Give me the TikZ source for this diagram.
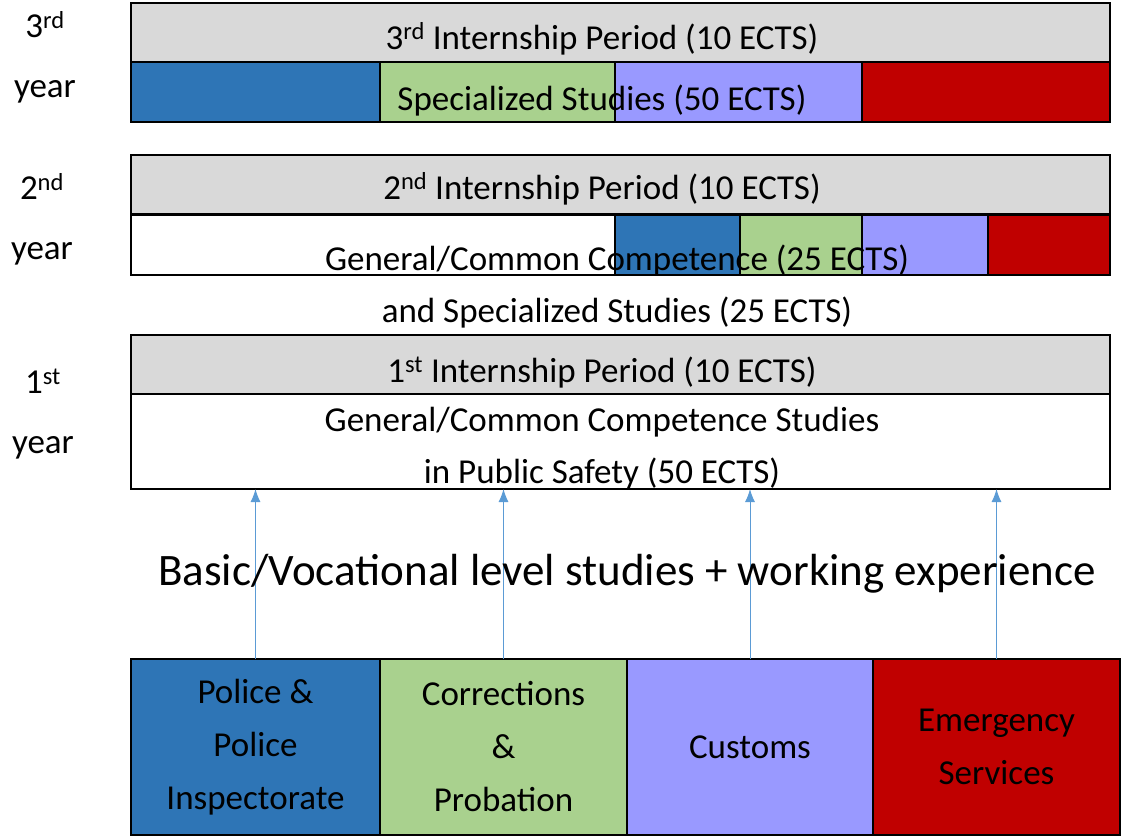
\documentclass[tikz,border=0pt]{standalone}
\usepackage{fontspec}
\setmainfont{Carlito}
\usetikzlibrary{positioning}
\usetikzlibrary{arrows.meta}

\definecolor{policeBlue}{HTML}{2E75B6}
\definecolor{corrGreen}{HTML}{A9D18E}
\definecolor{customsLav}{HTML}{9999FF}
\definecolor{rescueRed}{HTML}{C00000}
\definecolor{barGray}{HTML}{D9D9D9}
\definecolor{arrowBlue}{HTML}{5B9BD5}

\begin{document}
\begin{tikzpicture}[x=1pt,y=-1pt,
    bar/.style={draw,line width=2pt,fill=barGray,anchor=north west,inner sep=0pt,outer sep=0pt,minimum width=979pt,minimum height=59pt},
    seg/.style={draw,line width=2pt,anchor=north west,inner sep=0pt,outer sep=0pt,minimum height=60pt},
    lbl/.style={font=\fontsize{35}{52}\selectfont,inner sep=0pt,align=center},
    yearlbl/.style={font=\fontsize{35}{60}\selectfont,inner sep=0pt,align=center},
    career/.style={draw,line width=2pt,anchor=north west,inner sep=0pt,outer sep=0pt,minimum height=176pt,align=center,font=\fontsize{35}{53}\selectfont},
    feed/.style={-{Latex[length=13pt,width=10pt]},arrowBlue,line width=1pt}]
    \useasboundingbox (0,0) rectangle (1124,836);

    % 3rd year
    \node[yearlbl] (yr3lbl) at (45,57) {3\textsuperscript{rd}\\year};
    \node[bar] (int3) at (131,3) {};
    \node[lbl,anchor=base] (int3txt) at (602,49) {3\textsuperscript{rd} Internship Period (10 ECTS)};
    \node[seg,fill=policeBlue,minimum width=249pt] (s3a) at (131,62) {};
    \node[seg,fill=corrGreen,minimum width=235pt,right=0pt of s3a] (s3b) {};
    \node[seg,fill=customsLav,minimum width=247pt,right=0pt of s3b] (s3c) {};
    \node[seg,fill=rescueRed,minimum width=248pt,right=0pt of s3c] (s3d) {};
    \node[lbl,anchor=base] (spec3) at (602,110) {Specialized Studies (50 ECTS)};

    % 2nd year
    \node[yearlbl] (yr2lbl) at (42,219) {2\textsuperscript{nd}\\year};
    \node[bar] (int2) at (131,155) {};
    \node[lbl,anchor=base] (int2txt) at (602,199) {2\textsuperscript{nd} Internship Period (10 ECTS)};
    \node[seg,fill=white,minimum width=484pt] (s2a) at (131,215) {};
    \node[seg,fill=policeBlue,minimum width=125pt,right=0pt of s2a] (s2b) {};
    \node[seg,fill=corrGreen,minimum width=122pt,right=0pt of s2b] (s2c) {};
    \node[seg,fill=customsLav,minimum width=126pt,right=0pt of s2c] (s2d) {};
    \node[seg,fill=rescueRed,minimum width=122pt,right=0pt of s2d] (s2e) {};
    \node[lbl] (spec2) at (617,287) {General/Common Competence (25 ECTS)\\and Specialized Studies (25 ECTS)};

    % 1st year
    \node[yearlbl] (yr1lbl) at (43,414) {1\textsuperscript{st}\\year};
    \node[bar] (int1) at (131,335) {};
    \node[lbl,anchor=base] (int1txt) at (602,382) {1\textsuperscript{st} Internship Period (10 ECTS)};
    \node[seg,fill=white,minimum width=979pt,minimum height=95pt] (yr1) at (131,394) {};
    \node[lbl] (common1) at (602,448) {General/Common Competence Studies\\in Public Safety (50 ECTS)};

    % entry routes
    \node[career,fill=policeBlue,minimum width=249pt] (police) at (131,659) {Police \&\\Police\\Inspectorate};
    \node[career,fill=corrGreen,minimum width=247pt,right=0pt of police] (corr) {Corrections\\\&\\Probation};
    \node[career,fill=customsLav,minimum width=246pt,right=0pt of corr] (customs) {Customs};
    \node[career,fill=rescueRed,minimum width=247pt,right=0pt of customs] (rescue) {Emergency\\Services};

    \foreach \n in {police,corr,customs,rescue}
        \draw[feed] (\n.north) -- (\n.north |- yr1.south);

    \node[font=\fontsize{45}{54}\selectfont,inner sep=0pt,anchor=base] (basic) at (627,585) {Basic/Vocational level studies + working experience};
\end{tikzpicture}
\end{document}
